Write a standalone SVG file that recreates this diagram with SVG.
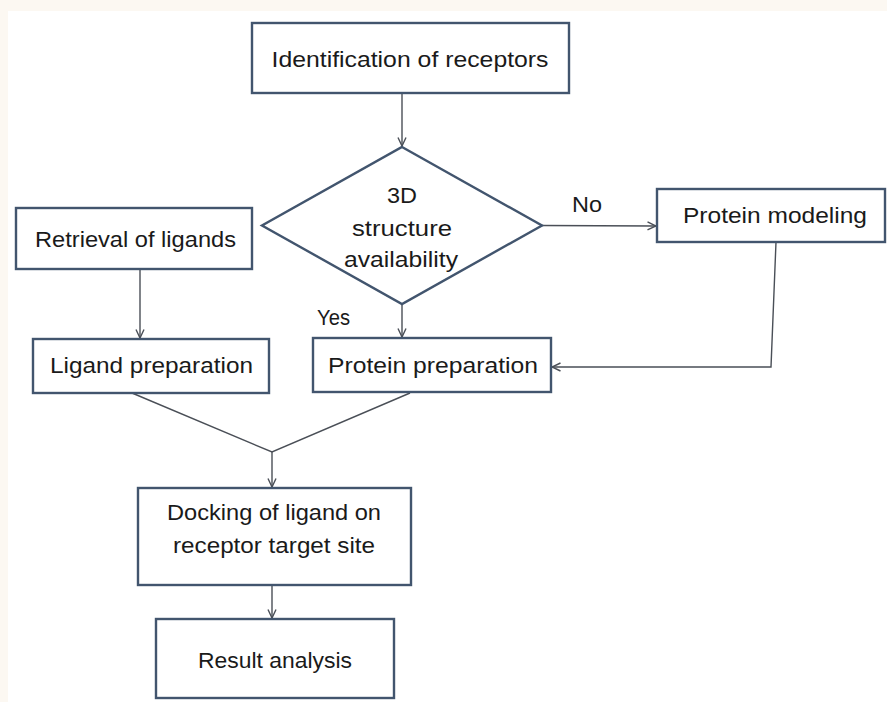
<svg xmlns="http://www.w3.org/2000/svg" width="887" height="702" viewBox="0 0 887 702">
<defs>
<style>
.box{fill:#ffffff;stroke:#42556e;stroke-width:2.4}
.t{font-family:"Liberation Sans",Arial,sans-serif;font-size:22.5px;fill:#1a1a1a;text-anchor:middle}
.lbl{font-family:"Liberation Sans",Arial,sans-serif;font-size:22.5px;fill:#1a1a1a}
.c{fill:none;stroke:#4a4f57;stroke-width:1.4}
</style>
<marker id="ah" viewBox="0 0 10 10" refX="9.5" refY="5" markerWidth="10" markerHeight="10" markerUnits="userSpaceOnUse" orient="auto">
<path d="M1,1 L9.5,5 L1,9" fill="none" stroke="#4a4f57" stroke-width="1.4"/>
</marker>
</defs>
<rect x="0" y="0" width="887" height="702" fill="#fcf8f2"/>
<rect x="8" y="11" width="879" height="691" fill="#ffffff"/>

<g id="connectors">
<line class="c" x1="402" y1="93" x2="402" y2="146" marker-end="url(#ah)"/>
<line class="c" x1="542" y1="225.5" x2="656" y2="226" marker-end="url(#ah)"/>
<line class="c" x1="140" y1="269" x2="140" y2="338" marker-end="url(#ah)"/>
<line class="c" x1="402" y1="304" x2="402" y2="337" marker-end="url(#ah)"/>
<polyline class="c" points="776,242 771,367 552,367" marker-end="url(#ah)"/>
<polyline class="c" points="132,393 272,452 410,393"/>
<line class="c" x1="272" y1="452" x2="272" y2="487" marker-end="url(#ah)"/>
<line class="c" x1="272" y1="585" x2="272" y2="618" marker-end="url(#ah)"/>
<text class="lbl" x="572" y="212" textLength="30" lengthAdjust="spacingAndGlyphs">No</text>
<text class="lbl" x="317" y="325" textLength="33" lengthAdjust="spacingAndGlyphs">Yes</text>
</g>

<g id="identification">
<rect class="box" x="252" y="23" width="317" height="70"/>
<text class="t" x="410" y="67" textLength="277" lengthAdjust="spacingAndGlyphs">Identification of receptors</text>
</g>

<g id="decision">
<polygon class="box" points="402,147 542,225.5 402,304 262,225.5"/>
<text class="t" x="402" y="203" textLength="30" lengthAdjust="spacingAndGlyphs">3D</text>
<text class="t" x="402" y="236" textLength="100" lengthAdjust="spacingAndGlyphs">structure</text>
<text class="t" x="401" y="267" textLength="114" lengthAdjust="spacingAndGlyphs">availability</text>
</g>

<g id="retrieval">
<rect class="box" x="16" y="208" width="236" height="61"/>
<text class="t" x="135.5" y="247" textLength="201" lengthAdjust="spacingAndGlyphs">Retrieval of ligands</text>
</g>

<g id="modeling">
<rect class="box" x="657" y="189" width="228" height="53"/>
<text class="t" x="775" y="223" textLength="184" lengthAdjust="spacingAndGlyphs">Protein modeling</text>
</g>

<g id="ligand-prep">
<rect class="box" x="33" y="339" width="236" height="54"/>
<text class="t" x="151.5" y="373" textLength="203" lengthAdjust="spacingAndGlyphs">Ligand preparation</text>
</g>

<g id="protein-prep">
<rect class="box" x="313" y="338" width="238" height="54"/>
<text class="t" x="433" y="373" textLength="210" lengthAdjust="spacingAndGlyphs">Protein preparation</text>
</g>

<g id="docking">
<rect class="box" x="138" y="488" width="273" height="97"/>
<text class="t" x="274" y="520" textLength="214" lengthAdjust="spacingAndGlyphs">Docking of ligand on</text>
<text class="t" x="274" y="553" textLength="202" lengthAdjust="spacingAndGlyphs">receptor target site</text>
</g>

<g id="result">
<rect class="box" x="156" y="619" width="238" height="79"/>
<text class="t" x="275" y="668" textLength="154" lengthAdjust="spacingAndGlyphs">Result analysis</text>
</g>
</svg>
